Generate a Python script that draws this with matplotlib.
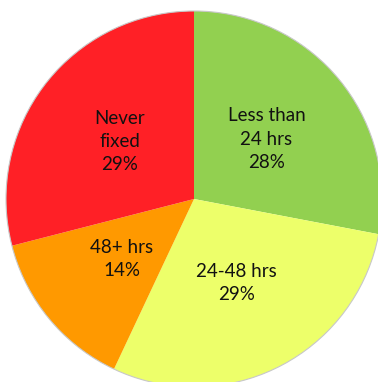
import numpy as np
import matplotlib.pyplot as plt
from matplotlib.patches import Circle

categories = ["Less than\n24 hrs", "24-48 hrs", "48+ hrs", "Never\nfixed"]
shares = [28, 29, 14, 29]
colors = ["#92D050", "#EDFF6A", "#FF9900", "#FF2026"]

W, H = 378, 382
fig = plt.figure(figsize=(W / 100, H / 100), dpi=100)
ax = fig.add_axes([0, 0, 1, 1])

# pie centre and radius in pixels
cx, cy, R = 194, 199, 188

wedges, _ = ax.pie(shares, colors=colors, startangle=90, counterclock=False,
                   radius=1.0, wedgeprops=dict(linewidth=0))
ax.set_xlim(-cx / R, (W - cx) / R)
ax.set_ylim(-(H - cy) / R, cy / R)
ax.set_aspect("auto")
ax.axis("off")

ax.add_patch(Circle((0, 0), 1.0, fill=False, edgecolor="#c8c8c8", linewidth=0.8))

for w, cat, s in zip(wedges, categories, shares):
    mid = np.deg2rad((w.theta1 + w.theta2) / 2)
    r = 0.5
    ax.text(r * np.cos(mid), r * np.sin(mid), f"{cat}\n{s}%",
            ha="center", va="center", fontsize=13.5, family="Lato",
            color="#111111", linespacing=1.45)

fig.savefig("out.png", dpi=100)
